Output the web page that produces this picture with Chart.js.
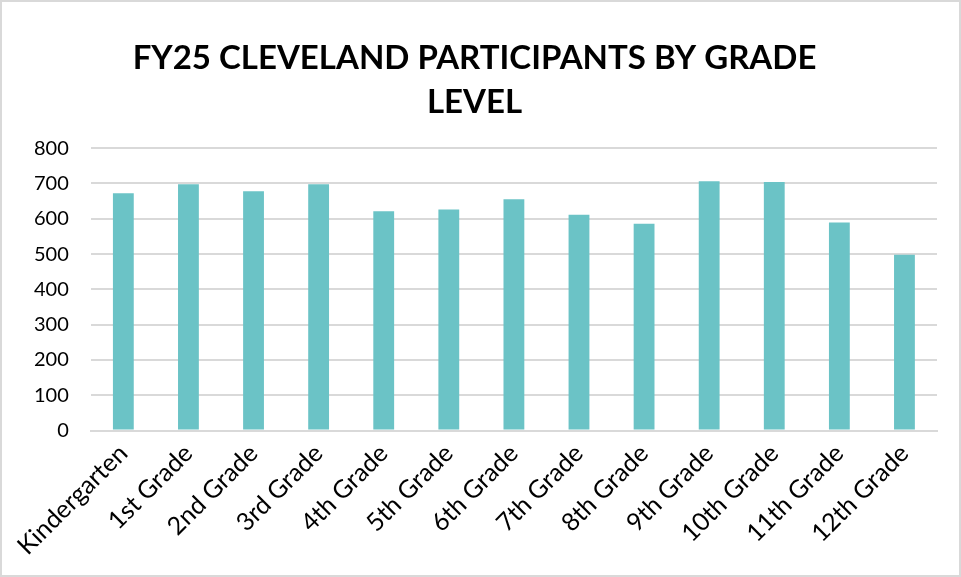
<!DOCTYPE html>
<html>
<head>
<meta charset="utf-8">
<script src="https://cdn.jsdelivr.net/npm/chart.js@4/dist/chart.umd.min.js"></script>
<style>
  html, body { margin: 0; padding: 0; background: #fff; }
  #wrap { position: relative; width: 957px; height: 573px; border: 2px solid #d9d9d9; }
</style>
</head>
<body>
<div id="wrap"><canvas id="chart"></canvas></div>
<script>
const grades = ["Kindergarten", "1st Grade", "2nd Grade", "3rd Grade", "4th Grade", "5th Grade",
  "6th Grade", "7th Grade", "8th Grade", "9th Grade", "10th Grade", "11th Grade", "12th Grade"];
const participants = [672, 698, 678, 698, 621, 626, 655, 611, 586, 706, 704, 589, 498];
const titleLines = ["FY25 CLEVELAND PARTICIPANTS BY GRADE", "LEVEL"];

const ctx = document.getElementById("chart").getContext("2d");
new Chart(ctx, {
  type: "bar",
  data: {
    labels: grades,
    datasets: [{
      label: "Participants",
      data: participants,
      backgroundColor: "#6bc3c6",
      barPercentage: 0.64,
      categoryPercentage: 0.5
    }]
  },
  options: {
    responsive: true,
    maintainAspectRatio: false,
    animation: false,
    layout: { padding: { left: 10, right: 22, top: 35, bottom: 14 } },
    plugins: {
      legend: { display: false },
      tooltip: { enabled: false },
      title: {
        display: true,
        text: titleLines,
        color: "#000",
        font: { family: "Lato", size: 33, weight: "bold", lineHeight: 1.32 },
        padding: { top: 0, bottom: 24 }
      }
    },
    scales: {
      x: {
        grid: { display: false },
        border: { color: "#d9d9d9", width: 2 },
        ticks: {
          color: "#000",
          font: { family: "Lato", size: 25 },
          minRotation: 45,
          maxRotation: 45,
          padding: 0
        }
      },
      y: {
        min: 0,
        max: 800,
        grid: { color: "#d9d9d9", lineWidth: 2, drawTicks: false },
        border: { display: false },
        ticks: {
          stepSize: 100,
          color: "#000",
          font: { family: "Lato", size: 20 },
          padding: 22
        }
      }
    }
  }
});
</script>
</body>
</html>
